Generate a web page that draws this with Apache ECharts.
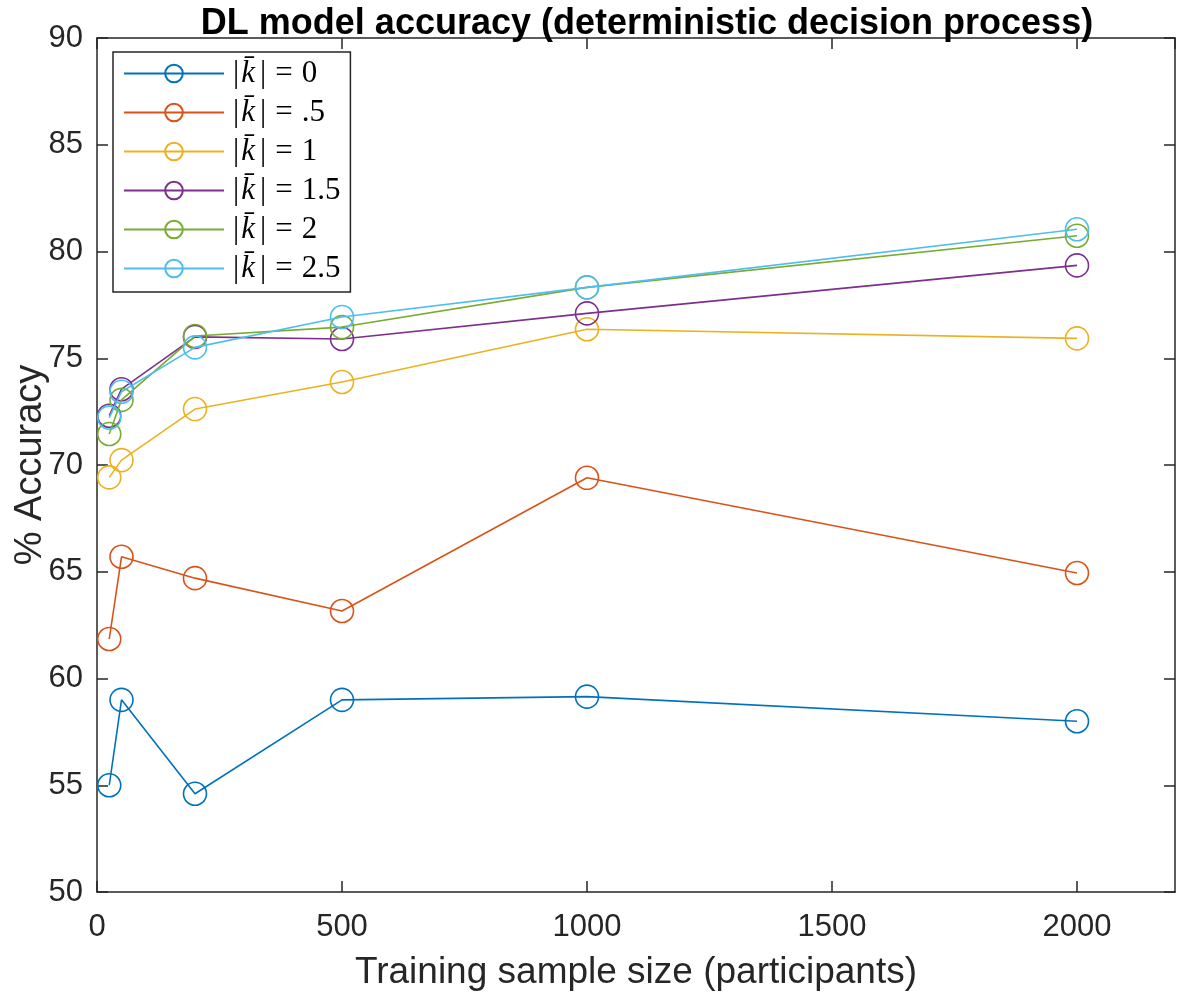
<!DOCTYPE html>
<html><head><meta charset="utf-8">
<script src="https://cdn.jsdelivr.net/npm/echarts@6/dist/echarts.min.js"></script>
<style>html,body{margin:0;padding:0;background:#fff}#c{width:1179px;height:997px}</style>
</head><body><div id="c"></div>
<script>
const xValues = [25, 50, 200, 500, 1000, 2000];
const seriesNames = ['0', '.5', '1', '1.5', '2', '2.5'];
const k0  = [55.0, 59.0, 54.6, 59.0, 59.15, 58.0];
const k05 = [61.85, 65.7, 64.7, 63.16, 69.4, 64.94];
const k1  = [69.42, 70.23, 72.62, 73.89, 76.36, 75.93];
const k15 = [72.31, 73.55, 76.0, 75.9, 77.1, 79.35];
const k2  = [71.45, 73.05, 76.04, 76.46, 78.32, 80.74];
const k25 = [72.22, 73.43, 75.51, 76.93, 78.32, 81.04];
const colors = ['#0072BD', '#D95319', '#EDB120', '#7E2F8E', '#77AC30', '#4DBEEE'];
const allSeries = [k0, k05, k1, k15, k2, k25];

const axisColor = '#262626';
const chart = echarts.init(document.getElementById('c'));
const series = allSeries.map((vals, i) => ({
  name: seriesNames[i],
  type: 'line',
  data: vals.map((v, j) => [xValues[j], v]),
  symbol: 'circle',
  symbolSize: 23,
  showAllSymbol: true,
  color: colors[i],
  lineStyle: { width: 1.6, color: colors[i] },
  itemStyle: { color: 'rgba(255,255,255,0)', borderColor: colors[i], borderWidth: 1.6 },
  emphasis: { disabled: true },
  animation: false,
  z: 2 + i
}));

const serif = 'Liberation Serif';
const rs = (extra) => Object.assign({ fontFamily: serif, fontSize: 31, color: '#000' }, extra);
chart.setOption({
  animation: false,
  backgroundColor: '#fff',
  title: {
    text: 'DL model accuracy (deterministic decision process)',
    left: 642, textAlign: 'center', top: 1,
    textStyle: { fontFamily: 'Liberation Sans', fontWeight: 'bold', fontSize: 36, color: '#000' }
  },
  grid: { left: 97, right: 4, top: 38, bottom: 105, show: false, containLabel: false, outerBoundsMode: 'none' },
  legend: {
    orient: 'vertical', left: 113, top: 52,
    padding: [6, 10, 8, 10],
    itemGap: 8, itemWidth: 100, itemHeight: 22,
    backgroundColor: '#fff', borderColor: axisColor, borderWidth: 1.5,
    data: seriesNames,
    formatter: name => '{p||}{k|k̄}{p||}{e|=}{v|' + name + '}',
    textStyle: {
      fontFamily: serif, fontSize: 31, color: '#000',
      rich: {
        p: rs({ padding: [0, 0, 0, 4] }),
        k: rs({ fontStyle: 'italic', padding: [0, 1, 0, 2] }),
        e: rs({ padding: [0, 9, 0, 9] }),
        v: rs({})
      }
    }
  },
  xAxis: [{
    type: 'value', min: 0, max: 2200, interval: 500,
    name: 'Training sample size (participants)', nameLocation: 'middle', nameGap: 62, nameMoveOverlap: false,
    nameTextStyle: { fontFamily: 'Liberation Sans', fontSize: 37, color: axisColor },
    axisLine: { show: true, onZero: false, lineStyle: { color: axisColor, width: 1.5 } },
    axisTick: { show: true, inside: true, length: 11, lineStyle: { color: axisColor, width: 1.5 } },
    axisLabel: { fontFamily: 'Liberation Sans', fontSize: 31, color: axisColor, margin: 20, showMaxLabel: false,
                 formatter: v => String(v) },
    splitLine: { show: false }
  }, {
    type: 'value', min: 0, max: 2200, interval: 500, position: 'top',
    axisLine: { show: true, onZero: false, lineStyle: { color: axisColor, width: 1.5 } },
    axisTick: { show: true, inside: true, length: 11, lineStyle: { color: axisColor, width: 1.5 } },
    axisLabel: { show: false }, splitLine: { show: false }
  }],
  yAxis: [{
    type: 'value', min: 50, max: 90, interval: 5,
    name: '% Accuracy', nameLocation: 'middle', nameGap: 47, nameRotate: 90, nameMoveOverlap: false,
    nameTextStyle: { fontFamily: 'Liberation Sans', fontSize: 38, color: axisColor },
    axisLine: { show: true, onZero: false, lineStyle: { color: axisColor, width: 1.5 } },
    axisTick: { show: true, inside: true, length: 11, lineStyle: { color: axisColor, width: 1.5 } },
    axisLabel: { fontFamily: 'Liberation Sans', fontSize: 31, color: axisColor, margin: 14 },
    splitLine: { show: false }
  }, {
    type: 'value', min: 50, max: 90, interval: 5, position: 'right',
    axisLine: { show: true, onZero: false, lineStyle: { color: axisColor, width: 1.5 } },
    axisTick: { show: true, inside: true, length: 11, lineStyle: { color: axisColor, width: 1.5 } },
    axisLabel: { show: false }, splitLine: { show: false }
  }],
  series: series
});
</script>
</body></html>
